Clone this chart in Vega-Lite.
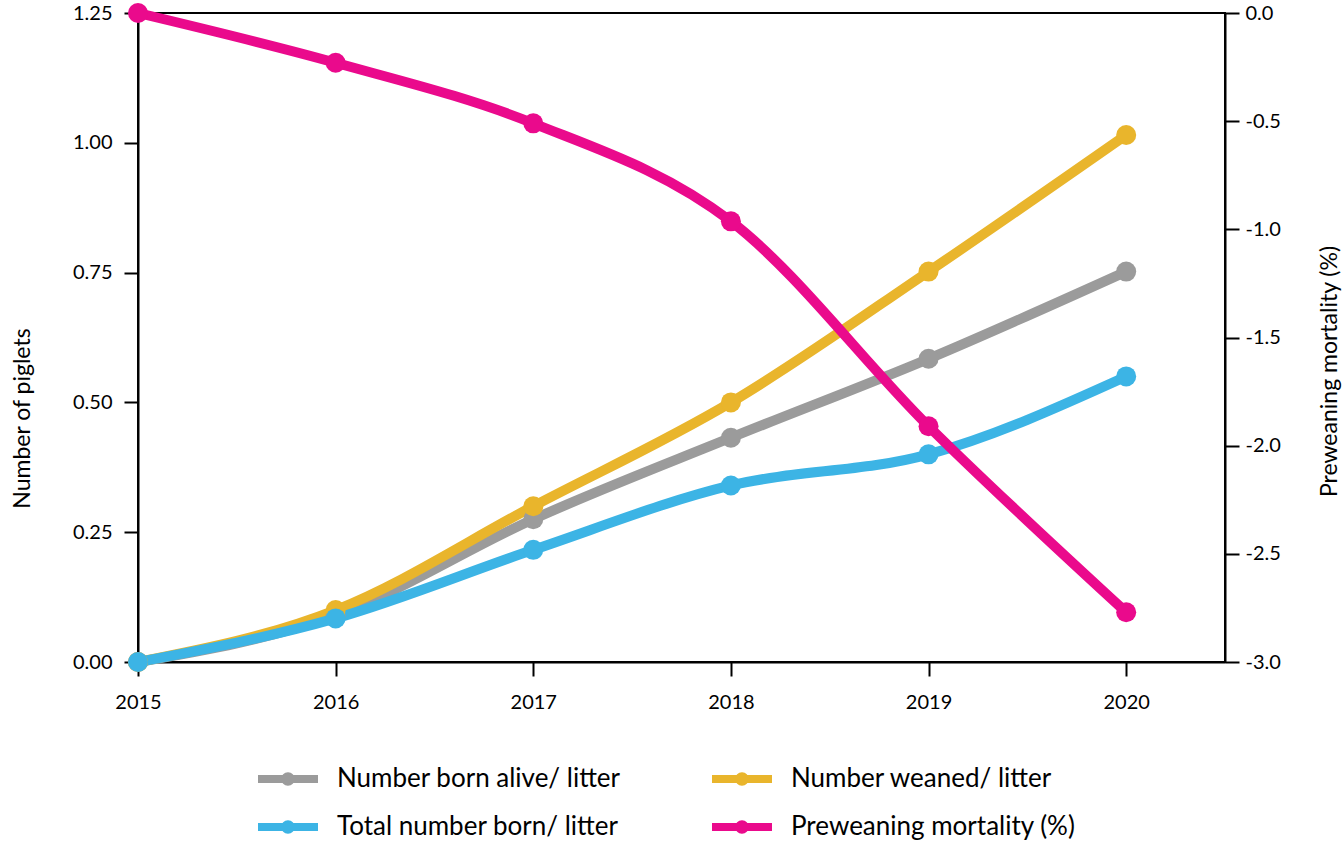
{
  "$schema": "https://vega.github.io/schema/vega-lite/v6.json",
  "autosize": {"type": "none"},
  "width": 1087,
  "height": 649,
  "padding": {"left": 138, "top": 13, "right": 118, "bottom": 182},
  "background": "white",
  "config": {
    "font": "Lato",
    "view": {"stroke": "black", "strokeWidth": 2},
    "axis": {
      "grid": false,
      "domainColor": "black",
      "domainWidth": 2,
      "tickColor": "black",
      "tickWidth": 2,
      "tickSize": 14,
      "labelColor": "black",
      "labelFont": "Lato",
      "labelFontSize": 20,
      "labelFlush": false,
      "labelOverlap": false,
      "titleColor": "black",
      "titleFont": "Lato",
      "titleFontSize": 23,
      "titleFontWeight": "normal"
    }
  },
  "data": {
    "values": [
      {"year": 2015, "series": "Number born alive/ litter", "value": 0},
      {"year": 2016, "series": "Number born alive/ litter", "value": 0.09},
      {"year": 2017, "series": "Number born alive/ litter", "value": 0.275},
      {"year": 2018, "series": "Number born alive/ litter", "value": 0.432},
      {"year": 2019, "series": "Number born alive/ litter", "value": 0.584},
      {"year": 2020, "series": "Number born alive/ litter", "value": 0.752},
      {"year": 2015, "series": "Number weaned/ litter", "value": 0},
      {"year": 2016, "series": "Number weaned/ litter", "value": 0.10},
      {"year": 2017, "series": "Number weaned/ litter", "value": 0.30},
      {"year": 2018, "series": "Number weaned/ litter", "value": 0.50},
      {"year": 2019, "series": "Number weaned/ litter", "value": 0.752},
      {"year": 2020, "series": "Number weaned/ litter", "value": 1.015},
      {"year": 2015, "series": "Total number born/ litter", "value": 0},
      {"year": 2016, "series": "Total number born/ litter", "value": 0.084},
      {"year": 2017, "series": "Total number born/ litter", "value": 0.216},
      {"year": 2018, "series": "Total number born/ litter", "value": 0.34},
      {"year": 2019, "series": "Total number born/ litter", "value": 0.40},
      {"year": 2020, "series": "Total number born/ litter", "value": 0.55},
      {"year": 2015, "series": "Preweaning mortality (%)", "value": 0},
      {"year": 2016, "series": "Preweaning mortality (%)", "value": -0.23},
      {"year": 2017, "series": "Preweaning mortality (%)", "value": -0.51},
      {"year": 2018, "series": "Preweaning mortality (%)", "value": -0.963},
      {"year": 2019, "series": "Preweaning mortality (%)", "value": -1.91},
      {"year": 2020, "series": "Preweaning mortality (%)", "value": -2.77}
    ]
  },
  "encoding": {
    "x": {
      "field": "year",
      "type": "quantitative",
      "scale": {"domain": [2015, 2020.5], "nice": false, "zero": false},
      "axis": {"values": [2015, 2016, 2017, 2018, 2019, 2020], "format": "d", "title": null, "labelPadding": 16, "tickSize": 14}
    },
    "color": {
      "field": "series",
      "type": "nominal",
      "scale": {
        "domain": ["Number born alive/ litter", "Number weaned/ litter", "Total number born/ litter", "Preweaning mortality (%)"],
        "range": ["#9b9b9b", "#e9b52c", "#3cb4e5", "#ea0a8c"]
      },
      "legend": {
        "title": null,
        "orient": "none",
        "legendX": 120,
        "legendY": 751,
        "columns": 2,
        "direction": "horizontal",
        "padding": 0,
        "columnPadding": 91,
        "rowPadding": 20,
        "symbolType": "M-2,-0.27H-0.36V0.27H-2Z M0.36,-0.27H2V0.27H0.36Z M-0.45,0A0.45,0.45 0 1 1 0.45,0A0.45,0.45 0 1 1 -0.45,0Z",
        "symbolSize": 900,
        "symbolStrokeWidth": 0,
        "symbolOffset": 15,
        "labelOffset": 34,
        "labelFont": "Lato",
        "labelFontSize": 26,
        "labelColor": "black",
        "labelLimit": 0,
        "encode": {
          "symbols": {"update": {"fill": {"scale": "color", "field": "value"}, "stroke": {"value": "transparent"}, "opacity": {"value": 1}}}
        }
      }
    }
  },
  "layer": [
    {
      "transform": [{"filter": "datum.series !== 'Preweaning mortality (%)'"}],
      "mark": {"type": "line", "strokeWidth": 10, "strokeCap": "round", "interpolate": "monotone", "point": {"filled": true, "size": 400, "opacity": 1}},
      "encoding": {
        "y": {
          "field": "value",
          "type": "quantitative",
          "scale": {"domain": [0, 1.25], "nice": false},
          "axis": {"orient": "left", "values": [0, 0.25, 0.5, 0.75, 1.0, 1.25], "format": ".2f", "title": "Number of piglets", "labelPadding": 12, "titlePadding": 38, "titleY": 405}
        }
      }
    },
    {
      "transform": [{"filter": "datum.series === 'Preweaning mortality (%)'"}],
      "mark": {"type": "line", "strokeWidth": 10, "strokeCap": "round", "interpolate": "monotone", "point": {"filled": true, "size": 400, "opacity": 1}},
      "encoding": {
        "y": {
          "field": "value",
          "type": "quantitative",
          "scale": {"domain": [-3, 0], "nice": false},
          "axis": {"orient": "right", "values": [0, -0.5, -1, -1.5, -2, -2.5, -3], "labelExpr": "replace(format(datum.value, '.1f'), '\u2212', '-')", "title": "Preweaning mortality (%)", "labelPadding": 6, "titlePadding": 38, "titleAngle": 270, "titleBaseline": "top", "titleY": 358}
        }
      }
    }
  ],
  "resolve": {"scale": {"y": "independent"}}
}
